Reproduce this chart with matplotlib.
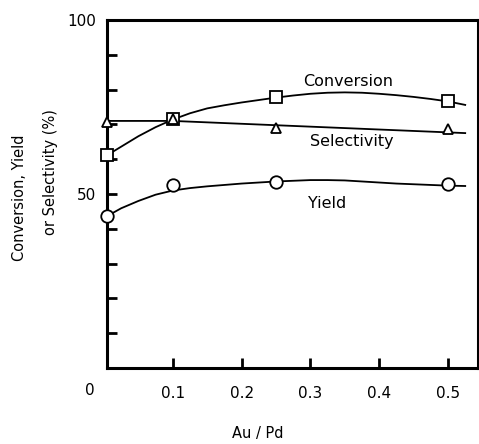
import matplotlib
matplotlib.use("Agg")
import matplotlib.pyplot as plt

# measured points
x_pts = [0.005, 0.1, 0.25, 0.5]
conversion = [61.2, 71.6, 77.9, 76.6]
selectivity = [70.8, 71.5, 69.0, 68.8]
yield_ = [43.7, 52.7, 53.5, 53.0]

# hand-drawn trend curves
x_curve = [0.005, 0.025, 0.05, 0.075, 0.1, 0.125, 0.15, 0.175, 0.2, 0.225, 0.25,
           0.275, 0.3, 0.325, 0.35, 0.375, 0.4, 0.425, 0.45, 0.475, 0.5, 0.525]
conv_curve = [61.2, 63.6, 66.6, 69.2, 71.4, 73.2, 74.6, 75.5, 76.3, 77.0, 77.7,
              78.3, 78.8, 79.1, 79.2, 79.1, 78.8, 78.4, 77.9, 77.3, 76.6, 75.6]
yield_curve = [43.7, 45.9, 48.0, 49.8, 51.0, 51.7, 52.2, 52.6, 53.0, 53.3, 53.6,
               53.8, 54.0, 54.0, 53.9, 53.6, 53.3, 53.0, 52.8, 52.6, 52.4, 52.3]
x_sel_line = [0.005, 0.1, 0.525]
sel_line = [71.0, 71.0, 67.5]

W, H = 479, 444
fig = plt.figure(figsize=(W / 100, H / 100), dpi=100)
L, R, B, T = 107, 478, 368, 20
ax = fig.add_axes([L / W, (H - B) / H, (R - L) / W, (B - T) / H])

lc = "black"
ax.plot(x_curve, conv_curve, color=lc, lw=1.3, solid_joinstyle="round")
ax.plot(x_curve, yield_curve, color=lc, lw=1.3, solid_joinstyle="round")
ax.plot(x_sel_line, sel_line, color=lc, lw=1.3)

ax.plot(x_pts, conversion, ls="none", marker="s", ms=8.5, mfc="white", mec=lc, mew=1.3, clip_on=False, zorder=5)
ax.plot(x_pts, selectivity, ls="none", marker="^", ms=6.5, mfc="white", mec=lc, mew=1.3, clip_on=False, zorder=5)
ax.plot(x_pts, yield_, ls="none", marker="o", ms=9, mfc="white", mec=lc, mew=1.3, clip_on=False, zorder=5)

ax.set_xlim(0.0044, 0.5436)
ax.set_ylim(0, 100)

for s in ax.spines.values():
    s.set_linewidth(2.2)

ax.set_xticks([0.1, 0.2, 0.3, 0.4, 0.5])
ax.set_xticklabels(["0.1", "0.2", "0.3", "0.4", "0.5"])
ax.set_yticks(list(range(0, 101, 10)))
ax.set_yticklabels(["" if v not in (50, 100) else str(v) for v in range(0, 101, 10)])
ax.tick_params(axis="both", direction="in", length=7, width=2, labelsize=11)
ax.tick_params(axis="x", pad=13)
ax.tick_params(axis="y", pad=8)

fs = 11.5
ax.text(0.355, 82.2, "Conversion", ha="center", va="center", fontsize=fs)
ax.text(0.360, 65.0, "Selectivity", ha="center", va="center", fontsize=fs)
ax.text(0.324, 47.4, "Yield", ha="center", va="center", fontsize=fs)

fig.text(90 / W, 1 - 390 / H, "0", ha="center", va="center", fontsize=11)
fig.text(258 / W, 1 - 433 / H, "Au / Pd", ha="center", va="center", fontsize=10.5)
fig.text(20 / W, 1 - 198 / H, "Conversion, Yield", ha="center", va="center", rotation=90, fontsize=10.5)
fig.text(50 / W, 1 - 172 / H, "or Selectivity (%)", ha="center", va="center", rotation=90, fontsize=10.5)

fig.savefig("out.png", dpi=100)
